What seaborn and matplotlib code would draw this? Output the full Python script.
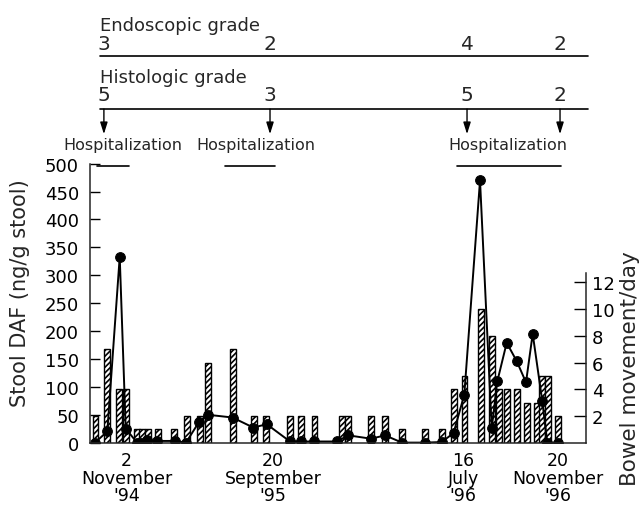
import matplotlib
matplotlib.use("Agg")
import matplotlib.pyplot as plt
import seaborn as sns

# Sampling positions along the (non-linear) study timeline, 0-100
bar_pos = [1.11, 3.43, 5.85, 7.20, 9.42, 10.48, 11.69, 13.71, 16.94, 19.56,
           22.12, 23.79, 28.89, 33.00, 35.54, 40.38, 42.54, 45.26, 50.75, 52.02,
           56.65, 59.48, 62.90, 67.48, 70.91, 73.35, 75.50, 78.89, 81.11, 82.40,
           84.03, 86.09, 88.10, 90.12, 91.13, 92.34, 94.31]
# Bowel movements per day (hatched bars, right axis)
bowel_per_day = [2, 7, 4, 4, 1, 1, 1, 1, 1, 2,
                 2, 6, 7, 2, 2, 2, 2, 2, 2, 2,
                 2, 2, 1, 1, 1, 4, 5, 10, 8, 4,
                 4, 4, 3, 3, 5, 5, 2]

daf_pos = [1.01, 3.49, 5.99, 7.20, 9.48, 10.22, 11.43, 13.45, 17.14, 19.35,
           21.98, 23.69, 28.73, 32.92, 35.63, 40.32, 42.48, 45.20, 49.74, 52.08,
           56.65, 59.48, 62.90, 67.48, 70.89, 73.29, 75.46, 78.63, 80.99, 82.12,
           84.01, 86.03, 87.90, 89.25, 91.19, 92.20, 94.35]
# Stool DAF, ng/g stool (line, left axis)
stool_daf = [0, 20, 333, 25, 0, 0, 5, 3, 3, 0,
             37, 50, 45, 27, 33, 2, 2, 2, 2, 13,
             7, 13, 0, 0, 1, 17, 86, 470, 26, 110,
             179, 146, 108, 195, 74, 0, 0]

tick_pos = [7.40, 36.90, 75.20, 94.35]
tick_labels = ["2\nNovember\n'94", "20\nSeptember\n'95", "16\nJuly\n'96", "20\nNovember\n'96"]

# Biopsy events: endoscopic and histologic grades
event_pos = [2.8, 36.29, 76.01, 94.76]
endoscopic_grade = ["3", "2", "4", "2"]
histologic_grade = ["5", "3", "5", "2"]

# Hospitalization periods
hosp_start = [1.47, 27.22, 73.93]
hosp_end = [7.91, 37.30, 94.90]
hosp_label_pos = [6.55, 33.47, 84.27]

sns.set_style("ticks")
plt.rcParams["font.family"] = ["DejaVu Sans"]
plt.rcParams["hatch.linewidth"] = 1.2

fig = plt.figure(figsize=(6.42, 5.06), dpi=100)
ax = fig.add_axes([0.1402, 0.1233, 0.7726, 0.5512])
ax2 = ax.twinx()

# bars on the right (bowel movement) axis
ax2.bar(bar_pos, bowel_per_day, width=1.15, color="white", edgecolor="black",
        linewidth=1.0, hatch="//////")
ax2.set_ylim(0, 20.9)
ax2.set_yticks([2, 4, 6, 8, 10, 12])
ax2.tick_params(axis="y", direction="in", length=8.7, width=1.0, pad=4,
                labelsize=13, colors="black")
for s in ["top", "left", "bottom"]:
    ax2.spines[s].set_visible(False)
ax2.spines["right"].set_bounds(0, 12.7)
ax2.spines["right"].set_linewidth(1.1)
ax2.set_ylabel("Bowel movement/day", fontsize=15.5, rotation=90)
ax2.yaxis.set_label_coords(1.068, 0.27)

# DAF line on top of the bars
ax.set_zorder(ax2.get_zorder() + 1)
ax.patch.set_visible(False)
sns.lineplot(x=daf_pos, y=stool_daf, ax=ax, color="black", linewidth=1.4,
             marker="o", markersize=7, markeredgecolor="black",
             estimator=None, sort=False, legend=False)
ax.set_xlim(0, 100)
ax.set_ylim(0, 500)
ax.set_yticks(range(0, 501, 50))
ax.tick_params(axis="y", direction="in", length=7.2, width=1.0, pad=8,
               labelsize=13, colors="black")
ax.set_xticks(tick_pos)
ax.set_xticklabels(tick_labels, linespacing=0.98)
ax.tick_params(axis="x", length=0, pad=6, labelsize=12.5, colors="black")
for s in ["top", "right"]:
    ax.spines[s].set_visible(False)
for s in ["left", "bottom"]:
    ax.spines[s].set_linewidth(1.1)
ax.set_ylabel("Stool DAF (ng/g stool)", fontsize=15)
ax.yaxis.set_label_coords(-0.121, 0.54)

# hospitalization periods
for x0, x1 in zip(hosp_start, hosp_end):
    ax.plot([x0, x1], [496, 496], color="black", linewidth=1.2, clip_on=False)

trans = ax.get_xaxis_transform()
for xp in hosp_label_pos:
    ax.text(xp, 1.053, "Hospitalization", transform=trans, ha="center",
            va="baseline", fontsize=11.5)

# grade header
ax.text(2.02, 1.479, "Endoscopic grade", transform=trans, ha="left",
        va="baseline", fontsize=13)
ax.text(2.02, 1.293, "Histologic grade", transform=trans, ha="left",
        va="baseline", fontsize=13)
ax.plot([2.02, 100.4], [1.386, 1.386], transform=trans, color="black",
        linewidth=1.2, clip_on=False)
ax.plot([2.02, 100.4], [1.196, 1.196], transform=trans, color="black",
        linewidth=1.2, clip_on=False)
for xp, eg, hg in zip(event_pos, endoscopic_grade, histologic_grade):
    ax.text(xp, 1.412, eg, transform=trans, ha="center", va="baseline", fontsize=14.5)
    ax.text(xp, 1.228, hg, transform=trans, ha="center", va="baseline", fontsize=14.5)
    ax.annotate("", xy=(xp, 1.106), xytext=(xp, 1.196), xycoords=trans,
                textcoords=trans,
                arrowprops=dict(arrowstyle="-|>,head_length=0.7,head_width=0.22",
                                color="black", lw=1.0, mutation_scale=10,
                                shrinkA=0, shrinkB=0))

fig.savefig("out.png", dpi=100, facecolor="white")
